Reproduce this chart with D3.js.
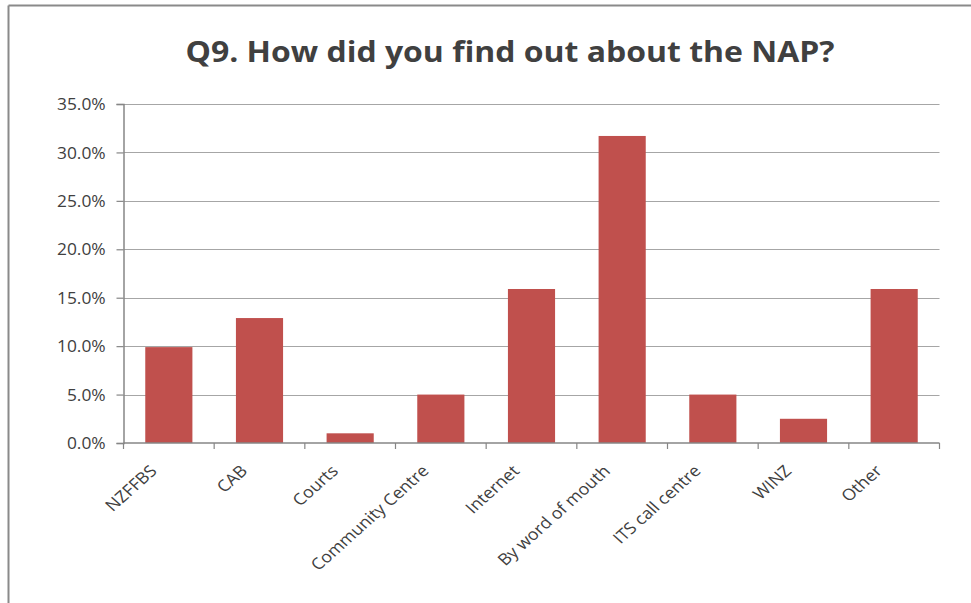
<!DOCTYPE html>
<html>
<head>
<meta charset="utf-8">
<script src="https://cdn.jsdelivr.net/npm/d3@7"></script>
<style>
  html, body { margin: 0; padding: 0; background: #fff; }
  svg { display: block; }
</style>
</head>
<body>
<svg id="chart" width="971" height="603"></svg>
<script>
// Survey responses: share of respondents by information source
const categories = ["NZFFBS", "CAB", "Courts", "Community Centre", "Internet",
                    "By word of mouth", "ITS call centre", "WINZ", "Other"];
const shares = [9.9, 12.9, 1.0, 5.0, 15.9, 31.7, 5.0, 2.5, 15.9];
const yTicks = [0, 5, 10, 15, 20, 25, 30, 35];
const title = "Q9. How did you find out about the NAP?";

const W = 971, H = 603;
const plot = { left: 123.5, right: 939.5, top: 104, bottom: 443 };
const svg = d3.select("#chart");
const textColor = "#404040";
const axisColor = "#868686";
const font = "'Open Sans', 'DejaVu Sans', sans-serif";
const sx = 1.12; // horizontal text stretch

// Chart frame (top and left edges visible)
svg.append("line").attr("x1", 8.5).attr("x2", W).attr("y1", 5.5).attr("y2", 5.5)
  .attr("stroke", "#8a8a8a").attr("stroke-width", 2);
svg.append("line").attr("x1", 8.5).attr("x2", 8.5).attr("y1", 5.5).attr("y2", H)
  .attr("stroke", "#8a8a8a").attr("stroke-width", 2);

const x = d3.scaleBand().domain(categories)
  .range([plot.left, plot.right]).paddingInner(0.48).paddingOuter(0.24);
const y = d3.scaleLinear().domain([0, 35]).range([plot.bottom, plot.top]);

// Gridlines
svg.append("g").selectAll("line").data(yTicks.filter(d => d > 0)).join("line")
  .attr("x1", plot.left).attr("x2", plot.right)
  .attr("y1", d => Math.round(y(d)) + 0.5).attr("y2", d => Math.round(y(d)) + 0.5)
  .attr("stroke", "#a6a6a6").attr("stroke-width", 1.2);

// Bars
svg.append("g").selectAll("rect").data(categories).join("rect")
  .attr("x", d => x(d)).attr("width", x.bandwidth())
  .attr("y", (d, i) => y(shares[i])).attr("height", (d, i) => y(0) - y(shares[i]))
  .attr("fill", "#C0504D");

// Y axis
const yAxis = d3.axisLeft(y).tickValues(yTicks).tickSize(7).tickPadding(10)
  .tickFormat(d => d3.format(".1f")(d) + "%");
const yg = svg.append("g").attr("transform", `translate(${plot.left},0)`).call(yAxis);
yg.select(".domain").attr("stroke", axisColor).attr("stroke-width", 1.5);
yg.selectAll(".tick line").attr("stroke", axisColor).attr("stroke-width", 1.2);
yg.selectAll(".tick text").attr("fill", textColor).attr("font-family", font)
  .attr("font-size", 15.5).attr("dy", "0.36em")
  .attr("transform", `translate(-10,0) scale(${sx},1) translate(10,0)`);

// X axis: baseline and category boundary ticks
const n = categories.length;
const boundaries = d3.range(n + 1).map(i => plot.left + i * (plot.right - plot.left) / n);
svg.append("line").attr("x1", plot.left).attr("x2", plot.right)
  .attr("y1", y(0)).attr("y2", y(0)).attr("stroke", axisColor).attr("stroke-width", 1.5);
svg.append("g").selectAll("line").data(boundaries).join("line")
  .attr("x1", d => d).attr("x2", d => d).attr("y1", y(0)).attr("y2", y(0) + 6)
  .attr("stroke", axisColor).attr("stroke-width", 1.2);

// Category labels, rotated
svg.append("g").selectAll("text").data(categories).join("text")
  .attr("transform", d => `translate(${x(d) + x.bandwidth() / 2 - 11},${472}) scale(${sx},1) rotate(-45)`)
  .attr("text-anchor", "end")
  .attr("fill", textColor).attr("font-family", font).attr("font-size", 16)
  .text(d => d);

// Title
svg.append("text").attr("x", 510).attr("y", 62).attr("text-anchor", "middle")
  .attr("fill", textColor).attr("font-family", font).attr("font-weight", 700)
  .attr("font-size", 29).attr("textLength", 649).attr("lengthAdjust", "spacingAndGlyphs")
  .text(title);
</script>
</body>
</html>
